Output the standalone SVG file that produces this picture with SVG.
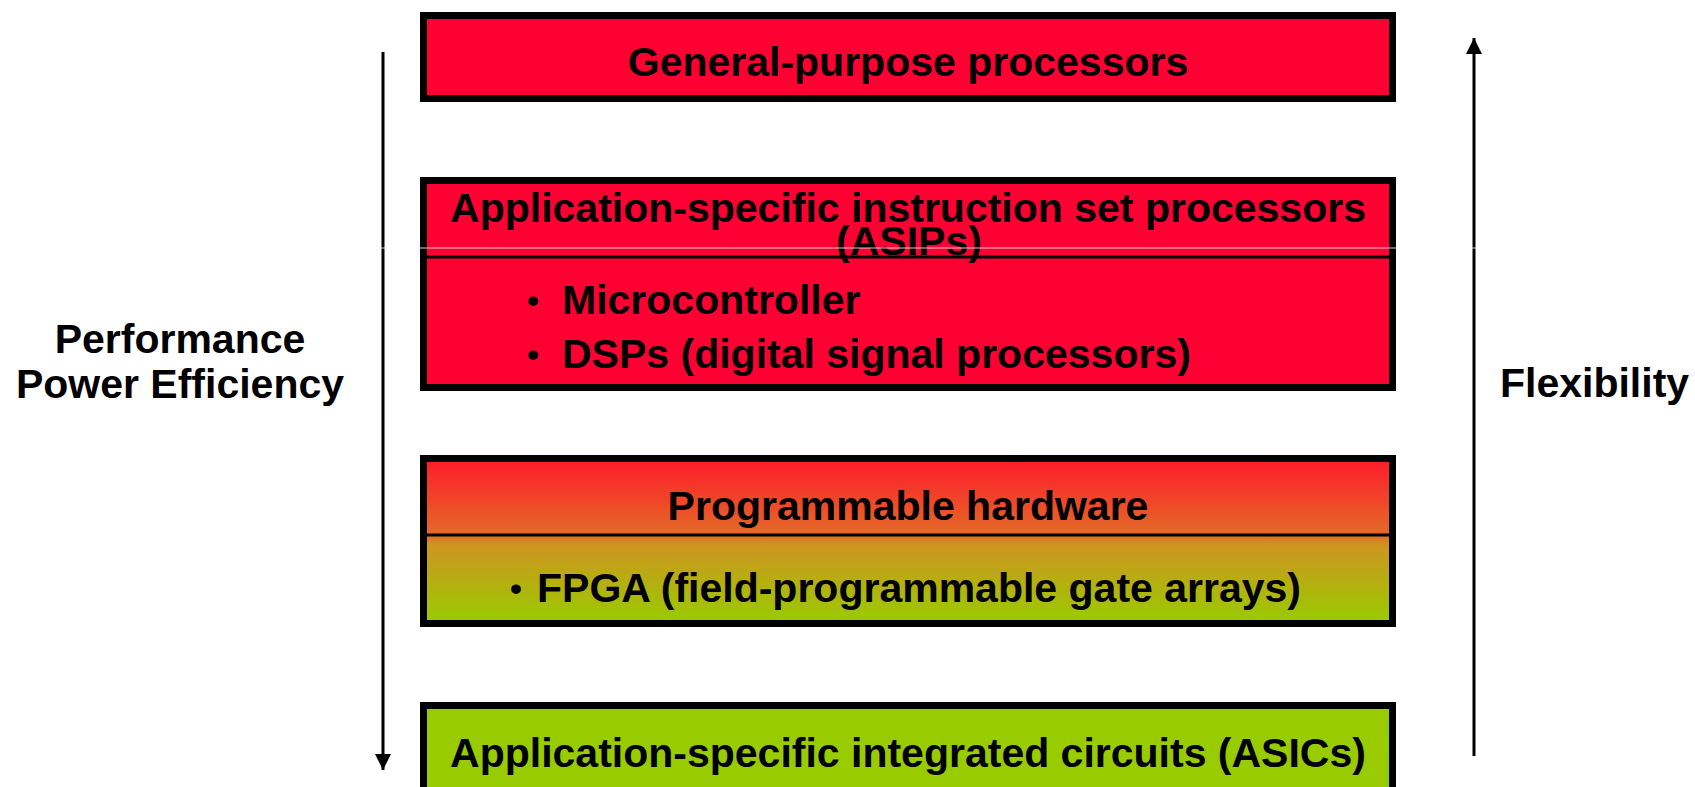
<svg xmlns="http://www.w3.org/2000/svg" width="1695" height="787" viewBox="0 0 1695 787">
  <style>
    .box { stroke: #000; stroke-width: 7; }
    .red { fill: #FF0033; }
    .green { fill: #99CC00; }
    .div { stroke: #000; stroke-width: 3; }
    .t { font-family: "Liberation Sans", Arial, sans-serif; font-weight: bold; font-size: 41px; fill: #000; }
    .c { text-anchor: middle; }
    .b { font-size: 34px; }
    .arrow { stroke: #000; stroke-width: 3; fill: none; }
  </style>
  <defs>
    <linearGradient id="grad" x1="0" y1="0" x2="0" y2="1">
      <stop offset="0" stop-color="#FF1A2B"/>
      <stop offset="0.46" stop-color="#E36A27"/>
      <stop offset="0.52" stop-color="#CF9420"/>
      <stop offset="1" stop-color="#99CC00"/>
    </linearGradient>
    <marker id="head" viewBox="0 0 16 16" refX="16" refY="8" markerWidth="16" markerHeight="16" markerUnits="userSpaceOnUse" orient="auto">
      <path d="M0,0 L16,8 L0,16 Z" fill="#000"/>
    </marker>
  </defs>
  <rect width="1695" height="787" fill="#fff"/>

  <g id="gpp">
    <rect class="box red" x="423.5" y="15.5" width="969" height="83"/>
    <text class="t c" x="908" y="76">General-purpose processors</text>
  </g>

  <g id="asip">
    <rect class="box red" x="423.5" y="180.5" width="969" height="207"/>
    <line class="div" x1="427" y1="257" x2="1389" y2="257"/>
    <text class="t c" x="908" y="222">Application-specific instruction set processors</text>
    <text class="t c" x="909" y="255">(ASIPs)</text>
    <text class="t c b" x="533" y="312">•</text>
    <text class="t" x="562" y="314">Microcontroller</text>
    <text class="t c b" x="533" y="366">•</text>
    <text class="t" x="562" y="368">DSPs (digital signal processors)</text>
  </g>

  <g id="progHW">
    <rect class="box" fill="url(#grad)" x="423.5" y="458.5" width="969" height="165"/>
    <line class="div" x1="427" y1="535" x2="1389" y2="535"/>
    <text class="t c" x="908" y="520">Programmable hardware</text>
    <text class="t c b" x="516" y="600">•</text>
    <text class="t" x="537" y="602">FPGA (field-programmable gate arrays)</text>
  </g>

  <g id="asic">
    <rect class="box green" x="423.5" y="705.5" width="969" height="110"/>
    <text class="t c" x="908" y="767">Application-specific integrated circuits (ASICs)</text>
  </g>

  <g id="labels">
    <text class="t c" x="180" y="353">Performance</text>
    <text class="t c" x="180" y="398">Power Efficiency</text>
    <text class="t" x="1500" y="397" font-size="40">Flexibility</text>
  </g>

  <g id="connectors">
    <line class="arrow" x1="383" y1="52" x2="383" y2="770" marker-end="url(#head)"/>
    <line class="arrow" x1="1474" y1="756" x2="1474" y2="38" marker-end="url(#head)"/>
  </g>

  <line x1="0" y1="248" x2="1695" y2="248" stroke="#fff" stroke-width="1" opacity="0.8"/>
</svg>
